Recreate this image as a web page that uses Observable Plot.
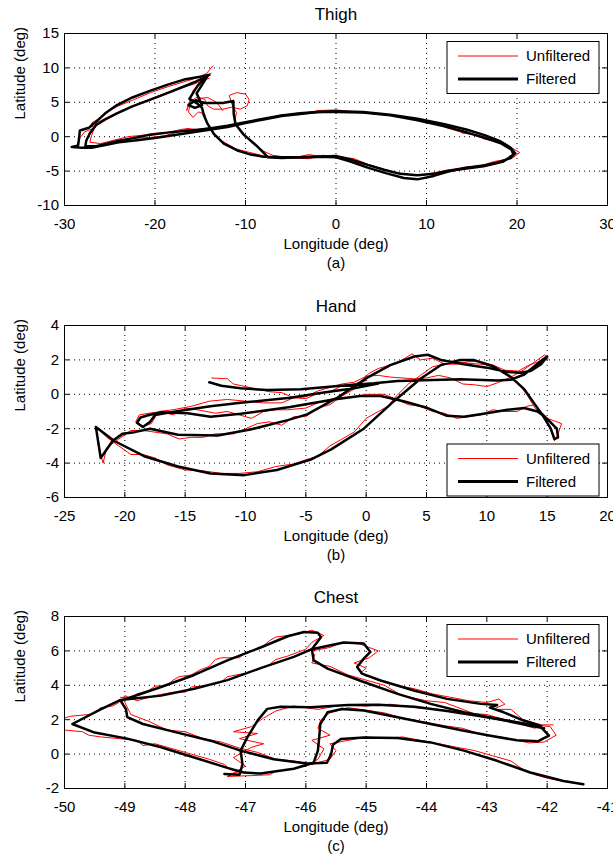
<!DOCTYPE html>
<html><head><meta charset="utf-8">
<script src="https://cdn.jsdelivr.net/npm/d3@7"></script>
<script src="https://cdn.jsdelivr.net/npm/@observablehq/plot@0.6"></script>
<style>
body{margin:0;background:#fff;}
#chart svg{display:block;}
</style></head><body><div id="chart"></div>
<script>
// ---------- tick values ----------
const thighXTicks = [-30,-20,-10,0,10,20,30];
const thighYTicks = [-10,-5,0,5,10,15];
const handXTicks = [-25,-20,-15,-10,-5,0,5,10,15,20];
const handYTicks = [-6,-4,-2,0,2,4];
const chestXTicks = [-50,-49,-48,-47,-46,-45,-44,-43,-42,-41];
const chestYTicks = [-2,0,2,4,6,8];
const legendLabels = ["Unfiltered","Filtered"];
const titles = ["Thigh","Hand","Chest"];
const captions = ["(a)","(b)","(c)"];
const xLabel = "Longitude (deg)";
const yLabel = "Latitude (deg)";

// ---------- Thigh [lon, lat] ----------
const thighFiltered = [
 [[-14.0,9.0],[-15.0,8.7],[-16.8,8.3],[-18.5,7.6],[-20.5,6.7],[-22.5,5.7],[-24.2,4.6],[-25.5,3.4],[-26.5,2.2],[-27.3,1.3],[-28.3,0.9],[-28.4,-0.3],[-28.5,-1.3],[-29.2,-1.5],[-28.0,-1.6],[-27.0,-1.6],[-25.5,-1.2],[-24.0,-0.8],[-22.0,-0.5],[-20.0,-0.2],[-18.0,0.2],[-16.0,0.6],[-14.0,1.0],[-12.0,1.4],[-10.0,2.0],[-8.0,2.5],[-6.0,3.0],[-4.0,3.3],[-2.0,3.6],[0.0,3.7],[3.0,3.6],[6.0,3.2],[9.0,2.6],[12.0,1.8],[14.5,1.0],[16.5,0.2],[18.2,-0.7],[19.3,-1.6],[19.8,-2.4],[19.3,-3.1],[18.0,-3.7],[16.3,-4.2],[14.0,-4.6],[12.3,-5.1],[10.8,-5.7],[9.0,-6.2],[7.5,-6.0],[5.5,-5.3],[3.5,-4.5],[1.6,-3.6],[0.0,-3.0],[-2.0,-2.9],[-4.0,-3.0],[-6.0,-3.1],[-7.5,-3.0],[-8.7,-1.4],[-10.2,0.3],[-11.1,1.8],[-11.3,3.3],[-11.35,5.2],[-12.5,4.9],[-14.5,4.9],[-15.5,5.3],[-16.3,4.6],[-15.6,4.2],[-14.8,4.6],[-15.4,6.3],[-14.2,8.8]],
 [[-14.2,8.8],[-15.5,8.0],[-16.8,7.3],[-18.5,6.4],[-20.5,5.4],[-22.5,4.4],[-24.2,3.4],[-25.5,2.5],[-26.5,1.7],[-27.2,0.5],[-27.6,-0.6],[-27.7,-1.4],[-26.5,-1.4],[-24.0,-0.6],[-22.0,-0.1],[-20.5,0.3],[-18.0,0.7],[-16.0,0.9],[-14.0,1.2],[-12.0,1.6],[-10.0,2.1],[-8.0,2.6],[-6.0,3.1],[-4.0,3.4],[-2.0,3.6],[0.0,3.6],[3.0,3.5],[6.0,3.1],[9.0,2.4],[12.0,1.5],[14.5,0.6],[16.5,-0.2],[18.3,-1.0],[19.4,-1.9],[19.6,-2.6],[18.5,-3.6],[16.3,-4.3],[14.0,-4.7],[12.3,-5.0],[10.8,-5.4],[9.0,-5.6],[7.1,-5.4],[5.3,-4.8],[3.5,-4.1],[1.6,-3.3],[0.0,-2.8],[-2.0,-2.9],[-4.0,-3.0],[-6.0,-3.0],[-8.0,-2.9],[-9.4,-2.6],[-10.9,-2.0],[-12.4,-1.0],[-13.5,0.4],[-14.2,1.9],[-14.6,3.1],[-14.8,4.2],[-15.3,4.8],[-16.2,5.5],[-15.3,7.4],[-14.2,8.9]]
];
const thighUnfiltered = [
 [[-13.6,10.3],[-14.3,9.2],[-15.5,8.5],[-17.0,7.9],[-18.5,7.3],[-20.5,6.4],[-22.5,5.3],[-24.0,4.5],[-25.0,3.8],[-26.2,2.6],[-27.0,2.0],[-26.8,1.2],[-27.8,0.7],[-28.3,-0.2],[-28.6,-1.2],[-29.0,-1.4],[-27.8,-1.7],[-26.5,-1.4],[-25.0,-1.0],[-23.5,-0.6],[-22.0,-0.2],[-20.5,-0.1],[-19.0,0.1],[-17.5,0.7],[-16.5,1.2],[-15.0,1.0],[-13.5,1.3],[-12.0,1.5],[-10.5,2.0],[-9.0,2.4],[-7.5,2.7],[-6.0,3.2],[-4.0,3.2],[-2.0,3.8],[0.0,3.9],[1.5,3.7],[3.0,3.5],[5.0,3.3],[7.0,3.0],[9.0,2.5],[11.0,2.1],[13.0,1.3],[14.0,0.5],[15.5,0.3],[17.0,-0.2],[18.5,-0.9],[19.5,-1.7],[20.3,-2.3],[19.6,-3.0],[18.5,-3.5],[17.0,-3.9],[15.8,-4.4],[14.5,-4.4],[13.0,-4.8],[11.5,-5.3],[10.2,-5.5],[9.0,-5.5],[7.5,-5.5],[6.0,-5.0],[4.5,-4.5],[3.0,-3.9],[1.5,-3.2],[0.0,-2.9],[-1.5,-2.9],[-3.0,-2.6],[-4.5,-3.0],[-6.0,-2.9],[-7.0,-2.7],[-8.0,-2.1],[-9.0,-1.0],[-10.5,0.7],[-11.2,2.0],[-11.0,3.5],[-11.5,4.7],[-11.8,6.0],[-11.0,6.4],[-10.0,6.2],[-9.6,5.4],[-9.8,4.5],[-10.6,4.0],[-11.5,4.3],[-12.5,4.0],[-13.5,4.0],[-14.2,4.5],[-14.5,5.4],[-15.3,5.8],[-16.2,5.0],[-16.5,3.8],[-15.8,6.7],[-14.5,8.5],[-13.8,9.2]],
 [[-14.0,8.5],[-15.8,7.6],[-17.5,7.0],[-19.5,6.0],[-21.5,5.0],[-23.5,3.9],[-25.0,3.0],[-26.5,2.0],[-27.0,0.2],[-27.2,-0.8],[-26.0,-1.0],[-24.5,-0.5],[-23.0,0.0],[-21.5,0.2],[-20.0,0.5],[-18.5,0.6],[-17.0,1.1],[-15.5,1.0],[-14.0,1.3]],
 [[12.0,1.4],[13.5,0.8],[15.0,0.4],[16.5,-0.4],[17.8,-0.6],[18.8,-1.3]],
 [[18.8,-3.3],[17.5,-3.6],[16.0,-4.2],[14.0,-4.5],[12.5,-4.8],[11.0,-5.2],[9.5,-5.6],[8.0,-5.5],[6.5,-5.2],[5.0,-4.6],[3.5,-4.0],[2.0,-3.2],[0.5,-2.9],[-1.5,-2.7],[-3.0,-3.2],[-5.0,-3.1],[-6.5,-3.1],[-8.0,-2.8],[-9.5,-2.3],[-11.0,-1.8],[-12.5,-0.7],[-13.6,0.6],[-14.3,2.0],[-14.5,3.3],[-15.2,3.6],[-15.8,2.8],[-16.3,3.6],[-16.1,4.8],[-15.3,5.5],[-14.2,5.7],[-13.2,5.0],[-12.5,3.8]]
];

// ---------- Hand [lon, lat] ----------
const handFiltered = [
 [[-13.0,0.7],[-12.0,0.5],[-10.4,0.35],[-8.2,0.25],[-5.4,0.3],[-2.1,0.5],[0.65,0.64],[2.6,0.78],[4.8,0.82],[7.8,0.87],[10.9,0.8],[12.0,0.85],[13.1,1.15],[13.9,1.6],[14.7,2.05],[15.0,2.2],[14.5,1.75],[13.6,1.35],[12.8,1.25],[11.7,1.3],[10.0,1.55],[8.1,1.75],[6.2,2.0],[5.1,2.3],[4.0,2.2],[2.0,1.7],[0.1,0.97],[-2.4,-0.2],[-4.9,-1.17],[-6.5,-1.5],[-9.6,-2.05],[-12.3,-2.4],[-15.6,-2.35],[-17.9,-2.0],[-19.2,-2.2],[-20.2,-2.3],[-21.0,-2.7],[-22.0,-3.7],[-22.4,-1.9],[-20.9,-2.7],[-18.4,-3.6],[-15.6,-4.2],[-12.9,-4.6],[-10.1,-4.7],[-7.4,-4.4],[-4.6,-3.8],[-2.9,-3.2],[-0.2,-2.0],[2.3,-0.4],[4.5,0.9],[6.2,1.7],[7.8,2.0],[8.9,2.0],[10.6,1.6],[12.0,1.0],[13.1,0.3],[13.9,-0.5],[14.5,-1.1],[15.1,-1.5],[15.8,-2.0],[15.9,-2.5],[15.6,-2.6],[15.3,-2.0],[14.6,-1.2],[14.2,-1.0],[13.1,-0.8],[11.7,-0.9],[10.0,-1.1],[8.1,-1.3],[6.7,-1.25],[5.1,-0.8],[3.1,-0.4],[1.2,-0.1],[-0.5,-0.1],[-2.7,-0.3],[-6.3,-0.74],[-10.4,-1.13],[-12.9,-1.3],[-14.8,-1.1],[-17.0,-1.05],[-18.0,-1.2],[-18.7,-1.35],[-19.0,-1.65],[-18.5,-1.9],[-17.9,-1.6],[-17.5,-1.2],[-15.4,-0.95],[-12.9,-0.7],[-10.4,-0.49],[-6.3,-0.2],[-3.5,0.1],[-1.0,0.35],[1.0,0.62]]
];
const handUnfiltered = [
 [[-12.8,0.95],[-11.5,0.9],[-11.0,0.6],[-10.0,0.45],[-9.0,0.3],[-8.0,0.15],[-7.0,0.1],[-6.0,-0.2],[-5.0,-0.15],[-4.0,0.2],[-3.0,0.4],[-2.0,0.6],[-1.0,0.7],[0.0,1.05],[1.0,1.1],[2.0,1.0],[3.0,0.95],[4.0,0.9],[5.0,0.95],[6.0,1.1],[7.0,0.95],[8.0,0.6],[9.0,0.55],[10.0,0.45],[11.0,0.7],[12.0,1.0],[13.0,1.4],[14.0,1.9],[14.8,2.3],[15.1,2.05],[14.3,1.9],[13.5,1.7],[12.6,1.35],[11.5,1.4],[10.5,1.7],[9.5,1.75],[8.5,1.8],[7.5,1.9],[6.5,1.75],[5.5,2.1],[4.5,2.0],[3.8,2.35],[2.5,1.8],[1.0,1.5],[0.2,1.2],[-1.0,0.3],[-2.0,-0.1],[-3.0,-0.6],[-4.0,-0.8],[-5.0,-1.3],[-6.0,-1.3],[-7.0,-1.8],[-8.0,-1.6],[-9.0,-1.7],[-10.0,-2.0],[-11.0,-2.3],[-12.5,-2.3],[-13.5,-2.5],[-14.5,-2.5],[-15.5,-2.6],[-16.5,-2.3],[-17.5,-2.2],[-18.5,-2.1],[-19.5,-2.1],[-20.5,-2.6],[-21.5,-3.1],[-21.8,-4.0],[-22.0,-3.5],[-22.4,-1.85],[-21.5,-2.5],[-20.5,-3.0],[-19.5,-3.5],[-18.5,-3.5],[-17.5,-3.7],[-16.5,-4.1],[-15.0,-4.4],[-13.5,-4.45],[-12.0,-4.6],[-10.5,-4.6],[-9.0,-4.5],[-7.5,-4.2],[-6.0,-4.05],[-5.0,-3.8],[-4.0,-3.6],[-3.0,-3.0],[-2.0,-2.6],[-1.0,-2.2],[0.0,-1.4],[1.0,-1.0],[1.8,-0.7],[2.5,-0.1],[3.5,0.6],[4.5,1.1],[5.5,1.6],[6.5,1.75],[7.5,1.75],[8.5,1.9],[9.5,1.9],[10.5,1.7],[11.5,1.2],[12.5,0.7],[13.3,0.0],[14.0,-0.8],[14.7,-1.3],[15.4,-1.5],[16.2,-1.7],[15.8,-2.5],[15.6,-2.7],[15.2,-1.9],[14.7,-1.2],[14.0,-0.6],[13.3,-0.7],[12.5,-1.0],[11.5,-1.0],[10.5,-0.9],[9.5,-1.2],[8.5,-1.3],[7.5,-1.4],[6.5,-1.1],[5.5,-1.0],[4.5,-0.7],[3.5,-0.6],[2.5,-0.3],[1.5,0.0],[0.0,0.0],[-1.0,-0.15],[-2.5,-0.2],[-4.0,-0.5],[-5.0,-0.8],[-6.5,-0.9],[-7.5,-0.9],[-8.5,-1.0],[-9.5,-1.4],[-10.5,-1.2],[-11.5,-1.0],[-12.5,-1.1],[-14.0,-0.9],[-15.0,-0.8],[-16.0,-1.2],[-17.0,-1.0],[-18.0,-1.1],[-18.8,-1.2],[-19.1,-1.6],[-18.6,-1.9],[-17.8,-1.7],[-17.2,-1.0],[-16.0,-0.9],[-14.5,-0.7],[-13.0,-0.4],[-11.5,-0.3],[-10.0,-0.4],[-8.5,-0.5],[-7.0,-0.5],[-6.0,-0.2],[-5.0,-0.25],[-4.0,0.05],[-3.0,0.15],[-2.0,0.5],[-1.0,0.6],[0.0,0.8]]
];

// ---------- Chest [lon, lat] ----------
const chestFiltered = [
 [[-49.07,3.1],[-48.4,3.9],[-47.85,4.6],[-47.3,5.45],[-46.75,6.2],[-46.3,6.85],[-46.03,7.1],[-45.8,7.05],[-45.75,6.8],[-45.9,6.1],[-46.2,5.65],[-46.75,5.0],[-47.3,4.3],[-47.85,3.8],[-48.4,3.4],[-49.07,3.15],[-49.4,2.6],[-49.87,1.75],[-49.5,1.25],[-48.96,0.9],[-48.4,0.4],[-47.85,-0.2],[-47.3,-0.8],[-47.03,-1.07],[-46.75,-1.13],[-46.2,-0.85],[-45.87,-0.5],[-45.8,0.2],[-45.78,0.9],[-45.76,1.75],[-45.64,2.43],[-45.4,2.62],[-45.04,2.53],[-44.48,2.14],[-43.93,1.75],[-43.38,1.36],[-42.94,1.07],[-42.5,0.8],[-42.15,0.75],[-41.97,1.07],[-42.11,1.6],[-42.5,1.85],[-43.1,2.2],[-43.66,2.5],[-44.2,2.75],[-44.8,2.87],[-45.3,2.85],[-45.92,2.72],[-46.42,2.75],[-46.64,2.63],[-46.8,1.95],[-46.97,0.97],[-47.08,0.2],[-47.05,-0.6],[-47.1,-1.2],[-47.35,-1.15]],
 [[-49.07,3.1],[-48.98,2.6],[-48.96,2.15],[-48.7,1.75],[-48.13,1.25],[-47.58,0.78],[-47.08,0.2],[-46.53,-0.3],[-45.98,-0.55],[-45.65,-0.5],[-45.58,0.0],[-45.55,0.55],[-45.42,0.88],[-45.04,0.97],[-44.48,0.94],[-43.93,0.68],[-43.38,0.2],[-42.83,-0.39],[-42.28,-1.07],[-41.73,-1.56],[-41.4,-1.75]],
 [[-45.9,6.1],[-45.59,6.33],[-45.37,6.49],[-45.04,6.43],[-44.93,5.94],[-45.04,5.55],[-45.15,5.06],[-45.07,4.68],[-44.76,4.28],[-44.21,3.7],[-43.66,3.21],[-43.1,2.92],[-42.83,2.85],[-42.95,2.7],[-42.72,2.43],[-42.39,1.95],[-42.11,1.65]],
 [[-45.9,6.1],[-45.87,5.45],[-45.64,4.97],[-45.04,4.19],[-44.48,3.5],[-43.93,2.92],[-43.38,2.43],[-42.83,2.05],[-42.28,1.65],[-42.05,1.5]]
];
const chestUnfiltered = [
 [[-49.07,3.3],[-48.9,3.25],[-48.8,3.5],[-48.6,3.7],[-48.5,3.95],[-48.3,4.0],[-48.2,4.3],[-48.1,4.5],[-47.9,4.6],[-47.75,4.9],[-47.6,5.1],[-47.5,5.5],[-47.4,5.6],[-47.1,5.6],[-47.0,5.9],[-46.9,6.0],[-46.7,6.3],[-46.6,6.6],[-46.5,6.8],[-46.3,6.9],[-46.1,7.0],[-45.9,7.2],[-45.7,6.9],[-45.9,6.5],[-46.0,6.1],[-46.3,5.7],[-46.5,5.5],[-46.6,5.2],[-46.8,4.9],[-47.0,4.7],[-47.3,4.5],[-47.4,4.2],[-47.6,4.0],[-47.9,3.9],[-48.0,3.6],[-48.2,3.6],[-48.5,3.4],[-48.8,3.1],[-49.0,3.4],[-49.1,3.0],[-49.2,2.8],[-49.4,2.7],[-49.5,2.4],[-49.6,2.3],[-49.9,2.2],[-50.0,2.1],[-50.0,1.4],[-49.7,1.3],[-49.6,1.1],[-49.4,1.0],[-49.1,0.9],[-48.8,0.8],[-48.7,0.5],[-48.5,0.6],[-48.2,0.3],[-48.0,0.1],[-47.9,0.0],[-47.6,-0.3],[-47.35,-0.6],[-47.25,-0.9],[-47.1,-1.0],[-47.3,-1.3],[-46.9,-1.25],[-46.6,-1.2],[-46.5,-1.0],[-46.3,-0.9],[-46.0,-0.7],[-45.8,-0.3],[-45.7,0.3],[-45.9,0.8],[-45.6,1.1],[-45.8,1.5],[-45.75,2.0],[-45.6,2.4],[-45.3,2.7],[-45.0,2.55],[-44.7,2.4],[-44.4,2.1],[-44.1,1.9],[-43.7,1.65],[-43.4,1.5],[-43.1,1.15],[-42.7,0.95],[-42.3,0.65],[-42.05,0.7],[-41.85,1.1],[-41.95,1.6],[-42.3,1.75],[-42.7,2.0],[-43.0,2.3],[-43.4,2.4],[-43.8,2.6],[-44.2,2.7],[-44.6,2.9],[-45.0,2.8],[-45.4,2.85],[-45.8,2.6],[-46.2,2.8],[-46.5,2.5],[-46.7,2.1],[-46.9,1.6],[-47.2,1.3],[-46.8,1.2],[-47.1,0.9],[-46.7,0.6],[-46.9,0.4],[-47.2,-0.2],[-47.0,-0.7],[-47.3,-1.3]],
 [[-49.0,3.0],[-48.9,2.3],[-48.6,1.9],[-48.3,1.4],[-48.0,1.3],[-47.7,0.9],[-47.4,0.7],[-47.1,0.35],[-46.8,0.1],[-46.5,-0.3],[-46.2,-0.4],[-45.9,-0.6],[-45.6,-0.3],[-45.5,0.2],[-45.6,0.6],[-45.3,0.8],[-45.0,1.0],[-44.7,0.9],[-44.4,1.0],[-44.1,0.8],[-43.8,0.6],[-43.5,0.4],[-43.2,0.2],[-42.9,-0.1],[-42.6,-0.4],[-42.4,-0.9],[-42.2,-1.2],[-42.0,-1.4],[-41.7,-1.6],[-41.4,-1.75]],
 [[-45.9,6.0],[-45.6,6.2],[-45.4,6.5],[-45.1,6.4],[-44.8,6.0],[-44.95,5.6],[-45.2,5.3],[-45.0,5.0],[-45.1,4.7],[-44.8,4.3],[-44.5,4.0],[-44.2,3.8],[-43.9,3.5],[-43.6,3.3],[-43.3,3.1],[-43.0,3.0],[-42.8,3.2],[-42.7,2.9],[-42.9,2.6],[-42.6,2.6],[-42.4,2.0],[-42.1,1.7],[-41.9,1.7]],
 [[-45.85,5.8],[-45.9,5.3],[-45.6,5.1],[-45.3,4.6],[-45.0,4.3],[-44.7,4.0],[-44.4,3.4],[-44.0,3.1],[-43.7,3.0],[-43.4,2.6],[-43.1,2.2],[-42.8,2.1],[-42.5,1.8],[-42.2,1.5]]
];

// ---------- drawing ----------
const W = 613, ML = 64, MR = 6, FONT = "'Liberation Sans', Arial, Helvetica, sans-serif";
const rows = segs => segs.flatMap((s, i) => s.map(([lon, lat]) => ({lon, lat, seg: i})));

function panel({title, caption, xDomain, yDomain, xTicks, yTicks, red, black, height, marginTop, marginBottom, legendPos}) {
  const innerH = height - marginTop - marginBottom;
  const innerW = W - ML - MR;
  const fmt = d => String(d);
  const svg = Plot.plot({
    width: W, height, marginLeft: ML, marginRight: MR, marginTop, marginBottom,
    x: {domain: xDomain, label: null},
    y: {domain: yDomain, label: null},
    style: {fontFamily: FONT, fontSize: "15px", color: "#000", background: "#fff", overflow: "visible"},
    marks: [
      Plot.gridX(xTicks, {stroke: "#000", strokeOpacity: 1, strokeDasharray: "1,4"}),
      Plot.gridY(yTicks, {stroke: "#000", strokeOpacity: 1, strokeDasharray: "1,4"}),
      Plot.line(rows(red), {x: "lon", y: "lat", z: "seg", stroke: "#ff0000", strokeWidth: 1}),
      Plot.line(rows(black), {x: "lon", y: "lat", z: "seg", stroke: "#000", strokeWidth: 2.5}),
      Plot.frame({stroke: "#000"}),
      Plot.tickX(xTicks, {x: d => d, insetTop: innerH - 5, stroke: "#000"}),
      Plot.tickX(xTicks, {x: d => d, insetBottom: innerH - 5, stroke: "#000"}),
      Plot.tickY(yTicks, {y: d => d, insetRight: innerW - 5, stroke: "#000"}),
      Plot.tickY(yTicks, {y: d => d, insetLeft: innerW - 5, stroke: "#000"}),
      Plot.axisX(xTicks, {anchor: "bottom", tickSize: 0, tickPadding: 12.5, tickFormat: fmt, label: null}),
      Plot.axisY(yTicks, {anchor: "left", tickSize: 0, tickPadding: 5.5, tickFormat: fmt, label: null}),
      Plot.text([title], {text: d => d, frameAnchor: "top", lineAnchor: "middle", dy: -19, fontSize: 17}),
      Plot.text([xLabel], {text: d => d, frameAnchor: "bottom", lineAnchor: "middle", dy: 39}),
      Plot.text([caption], {text: d => d, frameAnchor: "bottom", lineAnchor: "middle", dy: 58}),
      Plot.text([yLabel], {text: d => d, frameAnchor: "left", lineAnchor: "middle", dx: -44.5, rotate: -90})
    ]
  });
  // legend box (layout only)
  const lw = 152, lh = 52;
  const right = W - MR - 8;
  const left = right - lw;
  const top = legendPos === "top" ? marginTop + 8.5 : height - marginBottom - 1 - lh;
  const g = d3.select(svg).append("g");
  g.append("rect").attr("x", left).attr("y", top).attr("width", lw).attr("height", lh)
    .attr("fill", "#fff").attr("stroke", "#000").attr("stroke-width", 1);
  const items = [{c: "#ff0000", w: 1, dy: 14.5}, {c: "#000", w: 3, dy: 37.5}];
  legendLabels.forEach((lab, i) => {
    const it = items[i];
    g.append("line").attr("x1", left + 11).attr("x2", left + 71)
      .attr("y1", top + it.dy).attr("y2", top + it.dy).attr("stroke", it.c).attr("stroke-width", it.w);
    g.append("text").attr("x", left + 79).attr("y", top + it.dy).attr("dy", "0.35em")
      .attr("text-anchor", "start")
      .attr("font-family", FONT).attr("font-size", 15).attr("fill", "#000").text(lab);
  });
  return svg;
}

const chart = document.getElementById("chart");
chart.append(panel({title: titles[0], caption: captions[0], xDomain: [-30, 30], yDomain: [-10, 15], xTicks: thighXTicks, yTicks: thighYTicks, red: thighUnfiltered, black: thighFiltered, height: 291, marginTop: 33, marginBottom: 86, legendPos: "top"}));
chart.append(panel({title: titles[1], caption: captions[1], xDomain: [-25, 20], yDomain: [-6, 4], xTicks: handXTicks, yTicks: handYTicks, red: handUnfiltered, black: handFiltered, height: 292, marginTop: 34, marginBottom: 86, legendPos: "bottom"}));
chart.append(panel({title: titles[2], caption: captions[2], xDomain: [-50, -41], yDomain: [-2, 8], xTicks: chestXTicks, yTicks: chestYTicks, red: chestUnfiltered, black: chestFiltered, height: 274, marginTop: 33, marginBottom: 69, legendPos: "top"}));
</script></body></html>
